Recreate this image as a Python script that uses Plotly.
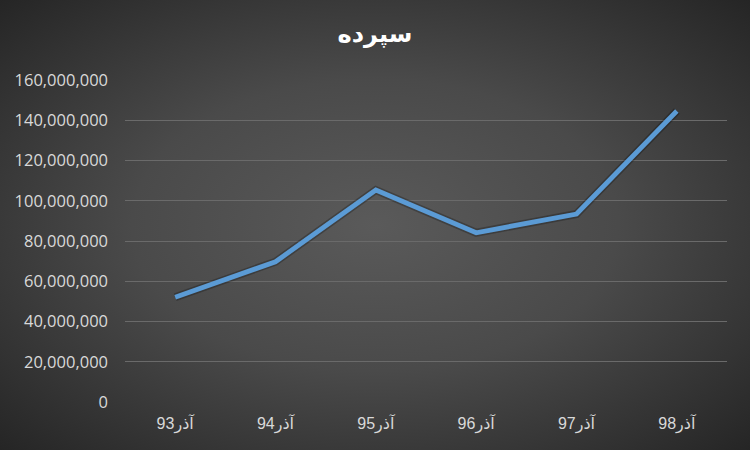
import plotly.graph_objects as go
import base64

categories = ["آذر93", "آذر94", "آذر95", "آذر96", "آذر97", "آذر98"]
values = [52000000, 69700000, 105300000, 84100000, 93400000, 144600000]
tick_vals = [0, 20000000, 40000000, 60000000, 80000000, 100000000, 120000000, 140000000, 160000000]
tick_text = ["0", "20,000,000", "40,000,000", "60,000,000", "80,000,000",
             "100,000,000", "120,000,000", "140,000,000", "160,000,000"]
title_text = "سپرده"

svg = ('<svg xmlns="http://www.w3.org/2000/svg" width="750" height="450">'
       '<defs><radialGradient id="g" cx="50%" cy="50%" r="72%">'
       '<stop offset="0%" stop-color="#5a5a5a"/>'
       '<stop offset="45%" stop-color="#4a4a4a"/>'
       '<stop offset="100%" stop-color="#242424"/>'
       '</radialGradient></defs>'
       '<rect width="750" height="450" fill="url(#g)"/></svg>')
bg_uri = "data:image/svg+xml;base64," + base64.b64encode(svg.encode()).decode()

L, R, T, B = 125, 23, 80, 48
PW, PH = 750 - L - R, 450 - T - B

fig = go.Figure()
fig.add_trace(go.Scatter(x=categories, y=values, mode="lines",
                         line=dict(color="rgba(0,0,0,0.25)", width=8),
                         hoverinfo="skip", showlegend=False))
fig.add_trace(go.Scatter(x=categories, y=values, mode="lines",
                         line=dict(color="#5B9BD5", width=4.8),
                         showlegend=False))

fig.update_layout(
    width=750, height=450,
    margin=dict(l=L, r=R, t=T, b=B),
    paper_bgcolor="#262626",
    plot_bgcolor="rgba(0,0,0,0)",
    images=[dict(source=bg_uri, xref="paper", yref="paper",
                 x=-L / PW, y=1 + T / PH, sizex=750 / PW, sizey=450 / PH,
                 xanchor="left", yanchor="top", sizing="stretch", layer="below")],
    title=dict(text="<b>" + title_text + "</b>", x=0.5, xref="container", y=0.925, yref="container",
               xanchor="center", yanchor="middle",
               font=dict(family="DejaVu Sans", size=24, color="#ffffff")),
    xaxis=dict(range=[-0.5, 5.5], showgrid=False, showline=False, zeroline=False, ticks="",
               tickfont=dict(family="Liberation Sans, DejaVu Sans", size=16, color="#d9d9d9"),
               ticklabelstandoff=10),
    yaxis=dict(range=[0, 160000000], tickvals=tick_vals, ticktext=tick_text,
               showgrid=True, gridcolor="#6a6a6a", gridwidth=1.3,
               zeroline=False, showline=False, ticks="",
               tickfont=dict(family="Open Sans", size=16.5, color="#d9d9d9"),
               ticklabelstandoff=16),
)

fig.write_html("out.html", config={"displayModeBar": False},
               post_script="document.body.style.margin='0px';")
